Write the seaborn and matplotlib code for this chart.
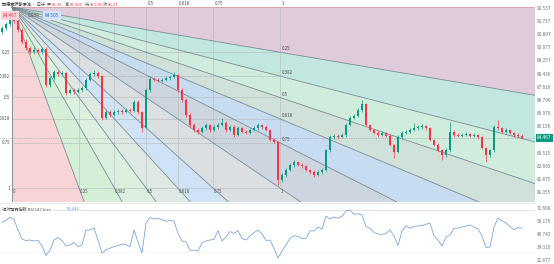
import numpy as np
import pandas as pd
import matplotlib
matplotlib.use("Agg")
import matplotlib.pyplot as plt
import matplotlib.transforms as mtransforms
import seaborn as sns

# ---------------- data ----------------
opens = [91.05, 91.31, 91.56, 91.81, 91.75, 91.19, 90.44, 90.07, 89.82, 89.94,
         89.82, 90.00, 87.76, 88.20, 88.57, 88.45, 88.51, 87.26, 87.45, 87.33,
         87.45, 87.57, 88.07, 88.45, 88.51, 88.32, 85.71, 86.08, 85.89, 86.08,
         86.14, 86.08, 86.20, 86.14, 86.70, 86.08, 85.08, 87.45, 88.14, 88.07,
         88.01, 88.07, 88.20, 88.26, 88.38, 87.45, 86.83, 85.89, 85.27, 84.96,
         84.84, 85.08, 85.27, 84.96, 85.15, 85.27, 85.40, 84.96, 85.15, 84.65,
         85.08, 84.84, 84.77, 84.96, 85.08, 85.27, 85.15, 84.96, 84.34, 84.21,
         81.85, 82.16, 82.47, 82.78, 82.97, 82.78, 82.72, 82.47, 82.34, 82.16,
         82.34, 82.47, 83.71, 84.52, 84.59, 84.52, 84.65, 85.27, 85.71, 85.83,
         86.20, 86.58, 85.27, 84.96, 84.77, 84.65, 84.77, 84.59, 84.03, 83.59,
         84.52, 84.77, 84.84, 84.96, 85.08, 85.15, 85.21, 85.08, 84.34, 84.03,
         83.71, 83.40, 83.71, 84.84, 84.65, 84.59, 84.65, 84.71, 84.59, 84.65,
         84.52, 83.84, 83.40, 83.71, 85.15, 85.08, 84.84, 84.96, 84.77, 84.65,
         84.59]
closes = [91.31, 91.56, 91.81, 91.75, 91.19, 90.44, 90.07, 89.82, 89.94, 89.82,
          90.00, 87.76, 88.20, 88.57, 88.45, 88.51, 87.26, 87.45, 87.33, 87.45,
          87.57, 88.07, 88.45, 88.51, 88.32, 85.71, 86.08, 85.89, 86.08, 86.14,
          86.08, 86.20, 86.14, 86.70, 86.08, 85.08, 87.45, 88.14, 88.07, 88.01,
          88.07, 88.20, 88.26, 88.38, 87.45, 86.83, 85.89, 85.27, 84.96, 84.84,
          85.08, 85.27, 84.96, 85.15, 85.27, 85.40, 84.96, 85.15, 84.65, 85.08,
          84.84, 84.77, 84.96, 85.08, 85.27, 85.15, 84.96, 84.34, 84.21, 81.85,
          82.16, 82.47, 82.78, 82.97, 82.78, 82.72, 82.47, 82.34, 82.16, 82.34,
          82.47, 83.71, 84.52, 84.59, 84.52, 84.65, 85.27, 85.71, 85.83, 86.20,
          86.58, 85.27, 84.96, 84.77, 84.65, 84.77, 84.59, 84.03, 83.59, 84.52,
          84.77, 84.84, 84.96, 85.08, 85.15, 85.21, 85.08, 84.34, 84.03, 83.71,
          83.40, 83.71, 84.84, 84.65, 84.59, 84.65, 84.71, 84.59, 84.65, 84.52,
          83.84, 83.40, 83.71, 85.15, 85.08, 84.84, 84.96, 84.77, 84.65, 84.59,
          84.467]
highs = [91.45, 91.70, 92.00, 91.95, 91.85, 91.30, 90.60, 90.20, 90.10, 90.05,
         90.15, 90.10, 88.35, 88.70, 88.68, 88.62, 88.58, 87.58, 87.55, 87.60,
         87.70, 88.18, 88.60, 88.70, 88.62, 88.40, 86.20, 86.18, 86.22, 86.25,
         86.25, 86.32, 86.30, 86.85, 86.80, 86.15, 87.55, 88.30, 88.25, 88.20,
         88.22, 88.32, 88.40, 88.60, 88.45, 87.55, 86.95, 86.00, 85.40, 85.10,
         85.20, 85.40, 85.35, 85.28, 85.38, 85.70, 85.50, 85.30, 85.25, 85.20,
         85.15, 84.95, 85.10, 85.20, 85.40, 85.35, 85.25, 85.05, 84.45, 84.30,
         82.30, 82.60, 82.90, 83.10, 83.05, 82.90, 82.80, 82.55, 82.45, 82.45,
         82.60, 83.80, 84.65, 84.72, 84.68, 84.78, 85.40, 85.85, 85.95, 86.32,
         86.83, 86.65, 85.35, 85.05, 84.88, 84.90, 84.85, 84.68, 84.10, 84.62,
         84.88, 84.95, 85.08, 85.40, 85.25, 85.32, 85.30, 85.15, 84.42, 84.12,
         83.80, 83.82, 85.46, 84.95, 84.75, 84.78, 84.82, 84.80, 84.75, 84.72,
         84.60, 83.92, 83.80, 85.28, 85.58, 85.15, 85.08, 85.05, 84.85, 84.75,
         84.68]
lows = [90.95, 91.20, 91.45, 91.62, 91.05, 90.30, 89.95, 89.70, 89.72, 89.70,
        89.72, 87.62, 87.65, 88.10, 88.35, 88.38, 87.15, 87.18, 87.22, 87.25,
        87.35, 87.48, 87.98, 88.35, 88.22, 85.58, 85.62, 85.78, 85.80, 85.98,
        85.98, 86.00, 86.05, 86.05, 85.98, 84.84, 85.00, 87.35, 87.98, 87.92,
        87.92, 87.98, 88.10, 88.18, 87.35, 86.72, 85.78, 85.15, 84.85, 84.72,
        84.75, 84.98, 84.85, 84.88, 85.05, 85.18, 84.85, 84.88, 84.55, 84.58,
        84.75, 84.68, 84.70, 84.88, 84.98, 85.05, 84.88, 84.25, 84.12, 81.53,
        81.75, 82.05, 82.38, 82.68, 82.70, 82.62, 82.38, 82.25, 82.05, 82.08,
        82.25, 82.38, 83.62, 84.42, 84.42, 84.45, 84.55, 85.18, 85.62, 85.75,
        86.10, 85.18, 84.88, 84.68, 84.55, 84.58, 84.50, 83.95, 83.21, 83.50,
        84.42, 84.68, 84.75, 84.88, 84.98, 85.05, 84.98, 84.25, 83.95, 83.62,
        83.09, 83.30, 83.62, 84.55, 84.50, 84.50, 84.58, 84.50, 84.52, 84.42,
        83.75, 82.97, 83.30, 83.62, 84.98, 84.75, 84.75, 84.68, 84.55, 84.50,
        84.38]
rsi_values = [57.75, 59.85, 62.72, 60.61, 50.58, 41.97, 40.54, 41.02, 40.06, 40.54,
              35.28, 26.20, 31.46, 41.02, 43.41, 40.54, 35.28, 36.24, 38.63, 34.61,
              36.24, 50.58, 50.58, 52.49, 41.02, 28.59, 31.46, 33.08, 34.80, 35.57,
              37.19, 36.52, 34.61, 50.58, 39.11, 28.59, 57.27, 62.53, 61.09, 61.76,
              60.61, 58.89, 59.66, 59.18, 47.23, 40.06, 39.11, 31.17, 31.27, 30.50,
              38.15, 40.06, 41.02, 41.49, 50.10, 40.06, 43.88, 49.14, 47.23, 50.10,
              42.45, 41.02, 44.84, 48.18, 50.38, 46.94, 40.54, 41.02, 32.89, 23.81,
              30.50, 36.24, 42.45, 45.13, 44.36, 42.45, 42.26, 49.81, 49.62, 53.44,
              51.53, 63.96, 61.09, 63.00, 61.86, 63.67, 68.74, 69.70, 65.59, 66.16,
              64.92, 53.92, 52.20, 48.18, 46.75, 46.47, 47.13, 50.58, 44.84, 35.76,
              49.62, 54.69, 52.20, 54.11, 54.40, 54.88, 56.12, 56.98, 45.13, 41.02,
              35.28, 43.88, 45.80, 52.20, 52.49, 53.44, 54.40, 55.36, 53.44, 51.53,
              44.84, 33.85, 34.32, 53.44, 62.05, 59.37, 57.27, 53.73, 50.86, 52.77,
              52.49]

price_ticks = [92.537, 91.717, 90.897, 90.077, 89.257, 88.436, 87.616, 86.796,
               85.976, 85.156, 83.515, 82.695, 81.875, 81.055]
rsi_ticks = [71.608, 59.176, 46.743, 34.310, 21.877]
fib_levels = [0, 0.25, 0.382, 0.5, 0.618, 0.75, 1]
fib_labels = ["0", "0.25", "0.382", "0.5", "0.618", "0.75", "1"]
fan_start = (2.5, 92.62)     # (bar index, price)
fan_end = (69.5, 81.347)
last_price = 84.467
header_name = "西德克萨斯原油 · 日计"
header_fields = [("开", "85.35"), ("高", "87.920"), ("低", "85.118"), ("收", "86.21")]
sell_price, spread, buy_price = "84.467", "0.038", "84.505"
rsi_title = "相对强弱指数 RSI 14 Close"
rsi_last = "50.643"

# ---------------- style ----------------
sns.set_theme(style="white")
plt.rcParams['font.family'] = ['Noto Sans CJK SC', 'DejaVu Sans']

W, H = 554, 264
fig = plt.figure(figsize=(W / 100, H / 100), dpi=100)
fig.patch.set_facecolor("white")
ax = fig.add_axes([0, 1 - 202 / H, 535 / W, 202 / H])
ax2 = fig.add_axes([0, 0, 535 / W, 61 / H])

xmin, xmax = -0.5, 133.25
ax.set_xlim(xmin, xmax)
ax.set_ylim(80.476, 93.054)
ax2.set_xlim(xmin, xmax)
ax2.set_ylim(18.07, 76.39)
for a in (ax, ax2):
    a.set_facecolor("white")
    for s in a.spines.values():
        s.set_visible(False)
    a.set_xticks([])
    a.set_yticks([])

# ---------------- Fibonacci speed fan ----------------
xa, pa = fan_start
xb, pb = fan_end
dx, dy = xb - xa, pb - pa
rays = [(dx, l * dy) for l in fib_levels] + [(l * dx, dy) for l in reversed(fib_levels[:-1])]
wedge_colors = ['#dfcbdc', '#c2e7de', '#cfecdc', '#cfe1d9', '#c7dcf1', '#cdd6de',
                '#dcdfe1', '#d0e3f6', '#dfe9e4', '#dcf0df', '#d5eed8', '#f8d4d6']
T = 30
for k in range(len(rays) - 1):
    d1, d2 = rays[k], rays[k + 1]
    poly = plt.Polygon([(xa, pa), (xa + T * d1[0], pa + T * d1[1]),
                        (xa + T * d2[0], pa + T * d2[1])],
                       closed=True, fc=wedge_colors[k], ec='none', zorder=0)
    ax.add_patch(poly)

# grid inside the fan rectangle
for l in fib_levels:
    ax.plot([xa, xb], [pa + l * dy, pa + l * dy], color='#b4babd', lw=0.4, zorder=1)
    ax.plot([xa + l * dx, xa + l * dx], [pa, pb], color='#b4babd', lw=0.4, zorder=1)

# fan lines
for k, d in enumerate(rays):
    col = '#e79aa3' if k == 0 else '#6f8590'
    ax.plot([xa, xa + T * d[0]], [pa, pa + T * d[1]], color=col, lw=0.55, zorder=1.5)

lab_kw = dict(fontsize=3.2, color='#4a4a4a', zorder=6)
for l, t in zip(fib_levels[1:], fib_labels[1:]):
    ax.text(xa - 0.5, pa + l * dy, t, ha='right', va='center', **lab_kw)
for l, t in zip(fib_levels[1:-1], fib_labels[1:-1]):
    ax.text(xb + 0.5, pa + l * dy + 0.05, t, ha='left', va='bottom', **lab_kw)
for l, t in zip(fib_levels, fib_labels):
    ax.text(xa + l * dx + 0.2, pb - 0.08, t, ha='left', va='top', **lab_kw)
for l, t in zip(fib_levels[3:], fib_labels[3:]):
    ax.text(xa + l * dx + 0.4, pa + 0.05, t, ha='left', va='bottom', **lab_kw)

# ---------------- candles ----------------
df = pd.DataFrame({"open": opens, "close": closes, "high": highs, "low": lows})
df["x"] = np.arange(len(df))
up = df["close"] >= df["open"]
cols = np.where(up, '#089981', '#f23645')
ax.vlines(df["x"], df["low"], df["high"], colors=cols, lw=0.5, zorder=3)
body_lo = np.minimum(df["open"], df["close"])
body_h = np.maximum(np.abs(df["close"] - df["open"]), 0.03)
ax.bar(df["x"], body_h, bottom=body_lo, width=0.62, color=cols, lw=0, zorder=3.2)

ax.axhline(last_price, color='#8d949a', lw=0.5, ls=(0, (1, 1.6)), zorder=2.5)

# price scale on the right
trans = mtransforms.blended_transform_factory(ax.transAxes, ax.transData)
for v in price_ticks:
    ax.text(1.004, v, f"{v:.3f}", transform=trans, fontsize=3.4, color='#6b6f76',
            ha='left', va='center')
ax.text(1.004, last_price, f"{last_price:.3f}", transform=trans, fontsize=3.4,
        color='white', ha='left', va='center',
        bbox=dict(boxstyle='square,pad=0.25', fc='#089981', ec='none'))

# header
def ftext(px, py, s, **kw):
    fig.text(px / W, 1 - py / H, s, va='center', ha='left', **kw)

ftext(2, 4.5, header_name, fontsize=3.0, color='#333333')
hx = [47, 65, 85, 103]
for (lab, val), x0 in zip(header_fields, hx):
    ftext(x0, 4.5, lab, fontsize=3.0, color='#555555')
    ftext(x0 + 5, 4.5, val, fontsize=3.0, color='#f23645')
ftext(3, 15.5, sell_price, fontsize=3.4, color='#f23645',
      bbox=dict(boxstyle='square,pad=0.35', fc='#fbd3d7', ec='none'))
ftext(28, 15.5, spread, fontsize=3.4, color='#555555')
ftext(45, 15.5, buy_price, fontsize=3.4, color='#2962ff',
      bbox=dict(boxstyle='square,pad=0.35', fc='#d6e5fa', ec='none'))

# ---------------- RSI pane ----------------
rsi_df = pd.DataFrame({"x": np.arange(len(rsi_values)), "rsi": rsi_values})
ax2.axhline(70, color='#d5d9dd', lw=0.5, zorder=0)
ax2.axhline(30, color='#eceef0', lw=0.4, zorder=0)
sns.lineplot(data=rsi_df, x="x", y="rsi", ax=ax2, color='#6d9fd8', lw=0.55)
ax2.set_xlabel("")
ax2.set_ylabel("")
ax2.set_xlim(xmin, xmax)
ax2.set_ylim(18.07, 76.39)
ax2.set_xticks([])
ax2.set_yticks([])
trans2 = mtransforms.blended_transform_factory(ax2.transAxes, ax2.transData)
for v in rsi_ticks:
    ax2.text(1.004, v, f"{v:.3f}", transform=trans2, fontsize=3.4, color='#6b6f76',
             ha='left', va='center')
ftext(2, 209, rsi_title, fontsize=3.0, color='#444444',
      bbox=dict(boxstyle='square,pad=0.2', fc='white', ec='none'))
ftext(67, 209, rsi_last, fontsize=3.0, color='#4f8fd6')
fig.add_artist(plt.Line2D([0, 535 / W], [1 - 202.5 / H, 1 - 202.5 / H],
                          transform=fig.transFigure, color='#e3e6e9', lw=0.6))

fig.savefig("out.png", dpi=100, facecolor="white")
